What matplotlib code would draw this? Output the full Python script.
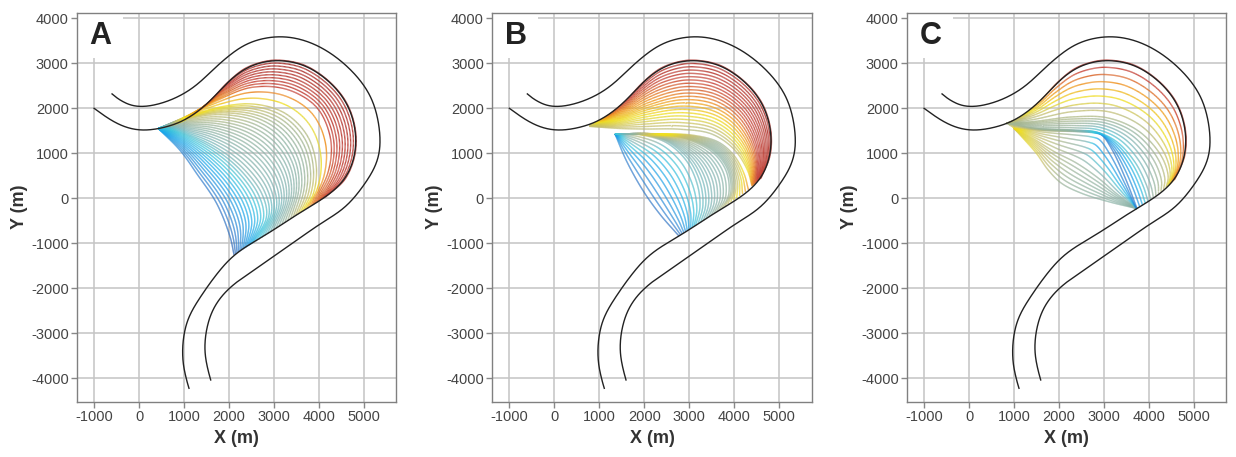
import numpy as np
import matplotlib
matplotlib.use("Agg")
import matplotlib.pyplot as plt
from matplotlib.collections import LineCollection
from matplotlib.colors import LinearSegmentedColormap
from matplotlib.patches import Rectangle

plt.rcParams["font.family"] = ["Liberation Sans", "DejaVu Sans"]
plt.rcParams["axes.unicode_minus"] = False

# -----------------------------
# Channel banks (same in all panels), metres
# -----------------------------
inner_bank_x = [-1000, -500, 0, 450, 800, 1150, 1570, 1950, 2350, 2790, 3150, 3700, 4260,
                4630, 4815, 4800, 4580, 4150, 3677, 2933, 2115, 1743, 1372, 1074, 963, 1000, 1112]
inner_bank_y = [2000, 1660, 1505, 1550, 1640, 1815, 2150, 2555, 2880, 3040, 3068, 2950, 2570,
                2100, 1520, 950, 420, 30, -259, -741, -1259, -1667, -2185, -2704, -3370, -3815, -4222]
outer_bank_x = [-600, -300, 0, 600, 1200, 1800, 2400, 3130, 3830, 4560, 5140, 5355, 5340,
                5180, 4600, 4048, 3305, 2561, 2041, 1669, 1483, 1468, 1595]
outer_bank_y = [2320, 2090, 2025, 2140, 2450, 3000, 3440, 3600, 3460, 3000, 2300, 1520, 930,
                560, -190, -556, -1074, -1593, -1963, -2407, -3000, -3519, -4037]

# -----------------------------
# Key channel positions (x, y) with colour value along them
# -----------------------------
# Panel A
a_key_s = [0.0, 0.3, 0.6, 0.73, 0.79, 1.0]
a_key_x = [[430, 913, 1285, 1730, 2027, 2115],
           [430, 1000, 1700, 2300, 2750, 2850, 2550],
           [430, 1000, 1800, 2600, 3150, 3500, 3580, 3400],
           [430, 1000, 1750, 2550, 3250, 3750, 3950, 3900, 3700],
           [430, 1000, 1700, 2500, 3300, 3950, 4250, 4200, 3850],
           [430, 800, 1150, 1570, 1950, 2350, 2790, 3150, 3700, 4260, 4630, 4815, 4800, 4580, 4150]]
a_key_y = [[1550, 1066, 548, -118, -859, -1259],
           [1550, 1450, 1150, 700, 100, -400, -985],
           [1550, 1750, 1880, 1750, 1400, 850, 250, -440],
           [1550, 1780, 2020, 2100, 1900, 1400, 750, 150, -250],
           [1550, 1800, 2150, 2450, 2400, 2000, 1300, 600, -155],
           [1550, 1640, 1815, 2150, 2555, 2880, 3040, 3068, 2950, 2570, 2100, 1520, 950, 420, 30]]
a_key_c = [[0.25, 0.15, 0.12, 0.1, 0.08, 0.06],
           [0.28, 0.38, 0.43, 0.46, 0.44, 0.38, 0.3],
           [0.3, 0.6, 0.64, 0.58, 0.52, 0.5, 0.52, 0.6],
           [0.3, 0.68, 0.72, 0.68, 0.62, 0.6, 0.62, 0.7, 0.76],
           [0.32, 0.72, 0.8, 0.88, 0.9, 0.9, 0.9, 0.87, 0.84],
           [0.32, 0.64, 0.76, 0.86, 0.92, 0.95, 0.97, 0.97, 0.97, 0.97, 0.96, 0.95, 0.94, 0.92, 0.9]]
a_lines = 45

# Panel B, lower family
b1_key_s = [0.0, 0.35, 0.7, 1.0]
b1_key_x = [[1350, 1614, 1989, 2363, 2775],
            [1350, 1900, 2500, 2950, 3200, 3250, 3150],
            [1350, 2200, 3000, 3550, 3850, 3900, 3750],
            [1350, 2300, 3100, 3650, 4000, 4220, 4320]]
b1_key_y = [[1430, 815, 148, -370, -840],
            [1430, 1420, 1250, 850, 300, -200, -600],
            [1430, 1430, 1300, 1020, 600, 100, -214],
            [1430, 1435, 1400, 1250, 950, 550, 190]]
b1_key_c = [[0.2, 0.12, 0.1, 0.1, 0.08],
            [0.25, 0.66, 0.46, 0.43, 0.42, 0.4, 0.36],
            [0.3, 0.71, 0.6, 0.5, 0.5, 0.54, 0.62],
            [0.35, 0.71, 0.64, 0.56, 0.62, 0.74, 0.82]]
b1_lines = 30

# Panel B, upper family
b2_key_s = [0.0, 0.5, 1.0]
b2_key_x = [[790, 1400, 2000, 2800, 3500, 4000, 4300, 4400],
            [790, 1400, 2100, 2900, 3600, 4150, 4500, 4520],
            [790, 1150, 1570, 1950, 2350, 2790, 3150, 3700, 4260, 4630, 4815, 4800, 4600]]
b2_key_y = [[1600, 1555, 1540, 1535, 1430, 1090, 620, 270],
            [1600, 1780, 2100, 2300, 2200, 1800, 1100, 380],
            [1620, 1815, 2150, 2555, 2880, 3040, 3068, 2950, 2570, 2100, 1520, 950, 450]]
b2_key_c = [[0.64, 0.64, 0.63, 0.62, 0.6, 0.64, 0.72, 0.82],
            [0.64, 0.74, 0.8, 0.84, 0.86, 0.88, 0.9, 0.9],
            [0.64, 0.82, 0.9, 0.93, 0.95, 0.96, 0.96, 0.96, 0.96, 0.96, 0.95, 0.93, 0.9]]
b2_lines = 22

# Panel C
c_key_s = [0.0, 0.2, 0.38, 0.55, 0.75, 1.0]
c_key_x = [[1000, 1239, 1500, 1761, 2060, 2507, 3104, 3740],
           [1000, 1400, 1900, 2400, 2900, 3300, 3740],
           [1000, 1700, 2400, 2800, 2960, 3180, 3480, 3720],
           [830, 1500, 2300, 2850, 3300, 3700, 3950, 4050],
           [830, 1500, 2300, 3100, 3800, 4300, 4450, 4400],
           [830, 1150, 1570, 1950, 2350, 2790, 3150, 3700, 4260, 4630, 4815, 4800, 4580]]
c_key_y = [[1556, 1296, 1000, 630, 333, 111, -74, -230],
           [1556, 1350, 1050, 800, 450, 100, -230],
           [1556, 1500, 1480, 1450, 1400, 1070, 400, -225],
           [1667, 1560, 1520, 1470, 1250, 800, 300, -30],
           [1667, 1720, 1820, 1800, 1500, 950, 500, 250],
           [1660, 1815, 2150, 2555, 2880, 3040, 3068, 2950, 2570, 2100, 1520, 950, 420]]
c_key_c = [[0.66, 0.7, 0.68, 0.62, 0.55, 0.52, 0.5, 0.5],
           [0.74, 0.68, 0.6, 0.55, 0.52, 0.5, 0.5],
           [0.74, 0.62, 0.52, 0.34, 0.15, 0.1, 0.1, 0.1],
           [0.58, 0.54, 0.5, 0.34, 0.35, 0.4, 0.45, 0.52],
           [0.56, 0.58, 0.6, 0.6, 0.57, 0.62, 0.66, 0.68],
           [0.6, 0.68, 0.8, 0.88, 0.93, 0.95, 0.95, 0.95, 0.95, 0.94, 0.92, 0.88, 0.86]]
c_lines = 32

panel_labels = ["A", "B", "C"]
x_ticks = [-1000, 0, 1000, 2000, 3000, 4000, 5000]
y_ticks = [-4000, -3000, -2000, -1000, 0, 1000, 2000, 3000, 4000]

cmap = LinearSegmentedColormap.from_list("mig", [
    (0.00, "#2a4d9e"), (0.12, "#2f7fd0"), (0.25, "#1aa8ec"), (0.35, "#3cc6dc"),
    (0.45, "#7fb4b4"), (0.55, "#9cb49a"), (0.65, "#c8c06c"), (0.72, "#f0e020"),
    (0.82, "#f09020"), (0.90, "#c8463a"), (1.00, "#9a2a2a")])


def smooth(x, y, c=None, n=20):
    # centripetal Catmull-Rom through the read-off points
    c = np.zeros(len(x)) if c is None else c
    p = np.column_stack([x, y, c]).astype(float)
    p = np.vstack([2 * p[0] - p[1], p, 2 * p[-1] - p[-2]])
    out = []
    for i in range(1, len(p) - 2):
        p0, p1, p2, p3 = p[i - 1], p[i], p[i + 1], p[i + 2]
        t0 = 0.0
        t1 = t0 + np.hypot(*(p1 - p0)[:2]) ** 0.5
        t2 = t1 + np.hypot(*(p2 - p1)[:2]) ** 0.5
        t3 = t2 + np.hypot(*(p3 - p2)[:2]) ** 0.5
        t = np.linspace(t1, t2, n, endpoint=False)[:, None]
        a1 = (t1 - t) / (t1 - t0) * p0 + (t - t0) / (t1 - t0) * p1
        a2 = (t2 - t) / (t2 - t1) * p1 + (t - t1) / (t2 - t1) * p2
        a3 = (t3 - t) / (t3 - t2) * p2 + (t - t2) / (t3 - t2) * p3
        b1 = (t2 - t) / (t2 - t0) * a1 + (t - t0) / (t2 - t0) * a2
        b2 = (t3 - t) / (t3 - t1) * a2 + (t - t1) / (t3 - t1) * a3
        out.append((t2 - t) / (t2 - t1) * b1 + (t - t1) / (t2 - t1) * b2)
    out.append(p[-2][None, :])
    return np.vstack(out)


def resample(arr, m=260):
    d = np.r_[0, np.cumsum(np.hypot(np.diff(arr[:, 0]), np.diff(arr[:, 1])))]
    u = np.linspace(0, d[-1], m)
    return np.column_stack([np.interp(u, d, arr[:, j]) for j in range(3)])


def bank_line(x, y, win=31):
    # smooth bank line, softened a little more so read-off jitter does not show
    pts = resample(smooth(x, y), 700)[:, :2]
    h = win // 2
    padded = np.vstack([np.repeat(pts[:1], h, 0), pts, np.repeat(pts[-1:], h, 0)])
    k = np.ones(win) / win
    sm = np.column_stack([np.convolve(padded[:, j], k, mode="valid") for j in range(2)])
    sm[0], sm[-1] = pts[0], pts[-1]
    return sm


def draw_family(ax, key_s, key_x, key_y, key_c, n_lines):
    keys = [resample(smooth(x, y, c)) for x, y, c in zip(key_x, key_y, key_c)]
    segs, cols = [], []
    for s in np.linspace(0, 1, n_lines):
        k = min(np.searchsorted(key_s, s, side="right") - 1, len(key_s) - 2)
        w = (s - key_s[k]) / (key_s[k + 1] - key_s[k])
        pts = (1 - w) * keys[k] + w * keys[k + 1]
        segs.append(np.stack([pts[:-1, :2], pts[1:, :2]], axis=1))
        cols.append(0.5 * (pts[:-1, 2] + pts[1:, 2]))
    lc = LineCollection(np.concatenate(segs), colors=cmap(np.concatenate(cols)),
                        linewidths=1.0, alpha=0.9, zorder=2)
    ax.add_collection(lc)


fig = plt.figure(figsize=(12.36, 4.57), dpi=100)
lefts = [77, 492.3, 907]
families = [
    [(a_key_s, a_key_x, a_key_y, a_key_c, a_lines)],
    [(b1_key_s, b1_key_x, b1_key_y, b1_key_c, b1_lines),
     (b2_key_s, b2_key_x, b2_key_y, b2_key_c, b2_lines)],
    [(c_key_s, c_key_x, c_key_y, c_key_c, c_lines)],
]

ib = bank_line(inner_bank_x, inner_bank_y)
ob = bank_line(outer_bank_x, outer_bank_y)

for i, left in enumerate(lefts):
    ax = fig.add_axes([left / 1236, 55.3 / 457, 319.3 / 1236, 389 / 457])
    ax.set_xlim(-1380, 5725)
    ax.set_ylim(-4520, 4125)
    ax.set_axisbelow(True)
    ax.grid(True, color="#c4c4c4", linewidth=1.1)
    ax.set_xticks(x_ticks)
    ax.set_yticks(y_ticks)
    ax.tick_params(direction="out", length=4, width=1, color="#888888",
                   labelcolor="#444444", labelsize=10.5, pad=2)
    for sp in ax.spines.values():
        sp.set_color("#808080")
        sp.set_linewidth(1.0)
        sp.set_zorder(5)

    for fam in families[i]:
        draw_family(ax, *fam)

    ax.plot(ib[:, 0], ib[:, 1], color="#222222", linewidth=1.0, zorder=3)
    ax.plot(ob[:, 0], ob[:, 1], color="#222222", linewidth=1.0, zorder=3)

    # white box behind the panel letter
    ax.add_patch(Rectangle((-1380, 3111), 1017, 1100, facecolor="white",
                           edgecolor="none", zorder=1))
    ax.text(-857, 3607, panel_labels[i], fontsize=22, fontweight="bold",
            color="#222222", ha="center", va="center", zorder=4)

    ax.set_xlabel("X (m)", fontsize=13, fontweight="bold", color="#333333", labelpad=4)
    ax.set_ylabel("Y (m)", fontsize=13, fontweight="bold", color="#333333", labelpad=2)

plt.savefig("out.png", dpi=100)
